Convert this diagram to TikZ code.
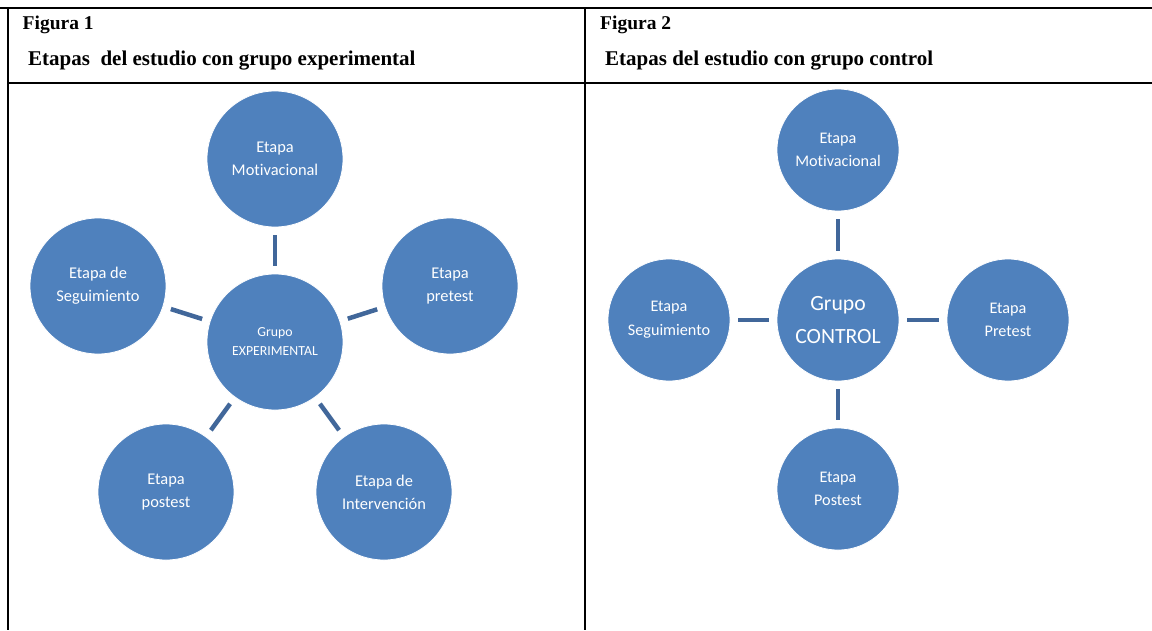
\documentclass[tikz,border=0pt]{standalone}
\usepackage{fontspec}
\setmainfont{Liberation Serif}
\newfontfamily\calfam[Ligatures=NoCommon]{Carlito}
\definecolor{cfill}{HTML}{4F81BD}
\definecolor{cline}{HTML}{41679A}
\begin{document}
\begin{tikzpicture}[x=1pt,y=-1pt,
  bub/.style={circle,fill=cfill,draw=white,line width=0.8pt,minimum size=#1*2pt,inner sep=0pt,text=white,align=center,font=\calfam\fontsize{16.4}{23}\selectfont},
  sml/.style={font=\calfam\fontsize{16.2}{23.7}\selectfont},
  lnk/.style={draw=cline,line width=4.5pt,shorten >=8pt,shorten <=8pt},
  rule/.style={line width=1.3pt,black},
  hd/.style={anchor=base west,font=\bfseries\fontsize{21}{22}\selectfont,inner sep=0pt},
  fig/.style={hd,font=\bfseries\fontsize{19.5}{21}\selectfont}]
\useasboundingbox (0,0) rectangle (1152,630);
% table
\draw[rule] (0,8) -- (1152,8);
\draw[rule] (8,83) -- (1152,83);
\draw[rule] (8,8) -- (8,630);
\draw[rule] (585,8) -- (585,630);
\node[fig] (f1) at (22.5,29) {Figura 1};
\node[hd] (t1) at (28,65) {Etapas\ \ del estudio con grupo experimental};
\node[fig] (f2) at (600,29) {Figura 2};
\node[hd] (t2) at (605,65) {Etapas del estudio con grupo control};
% figure 1
\node[bub=68] (mot) at (275,159) {Etapa\\Motivacional};
\node[bub=68] (pre) at (450,286) {Etapa\\pretest};
\node[bub=68] (seg) at (98,286) {Etapa de\\Seguimiento};
\node[bub=68,font=\calfam\fontsize{13.8}{19}\selectfont] (exp) at (275,342) {Grupo\\EXPERIMENTAL};
\node[bub=68] (pos) at (166,492) {Etapa\\postest};
\node[bub=68] (int) at (384,492) {Etapa de\\Intervención};
\foreach \n in {mot,pre,seg,pos,int} \draw[lnk] (exp) -- (\n);
% figure 2
\node[bub=61,sml] (mot2) at (838,150) {Etapa\\Motivacional};
\node[bub=61,font=\calfam\fontsize{21.7}{33}\selectfont] (ctl) at (838,320) {Grupo\\CONTROL};
\node[bub=61,sml] (seg2) at (669,320) {Etapa\\Seguimiento};
\node[bub=61,sml] (pre2) at (1008,320) {Etapa\\Pretest};
\node[bub=61,sml] (pos2) at (838,489) {Etapa\\Postest};
\foreach \n in {mot2,seg2,pre2,pos2} \draw[lnk] (ctl) -- (\n);
\end{tikzpicture}
\end{document}
